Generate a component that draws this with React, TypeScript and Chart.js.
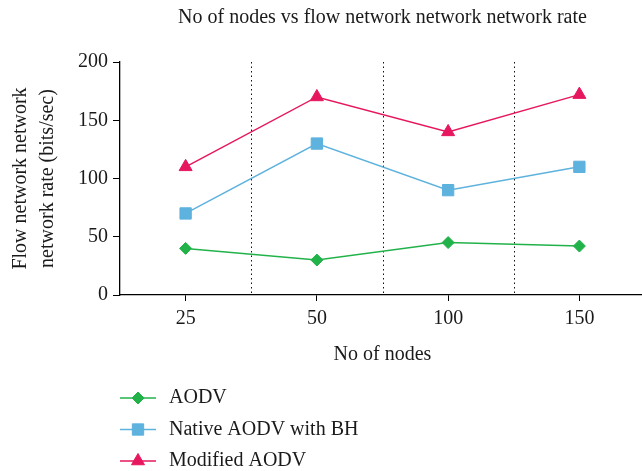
import React, { useEffect, useRef } from 'react';
import { Chart, registerables } from 'chart.js';
import { drawPoint } from 'chart.js/helpers';

Chart.register(...registerables);

const categories = ['25', '50', '100', '150'];
const aodv = [40, 30, 45, 42];
const nativeBH = [70, 130, 90, 110];
const modified = [110, 170, 140, 172];
const seriesNames = ['AODV', 'Native AODV with BH', 'Modified AODV'];
const titleText = 'No of nodes vs flow network network network rate';
const xTitle = 'No of nodes';
const yTitle = ['Flow network network', 'network rate (bits/sec)'];

const FONT = "'Liberation Serif', 'Times New Roman', serif";
const FS = 20;
const TEXT = '#1a1a1a';
const GREEN = '#22b24a';
const BLUE = '#5db2de';
const PINK = '#e6175e';

const dividerPlugin = {
  id: 'dividers',
  beforeDatasetsDraw(chart: any) {
    const x = chart.scales.x;
    const { top, bottom } = chart.chartArea;
    const ctx = chart.ctx;
    ctx.save();
    ctx.strokeStyle = '#111';
    ctx.lineWidth = 1;
    ctx.setLineDash([1.5, 3]);
    for (let i = 0; i < categories.length - 1; i++) {
      const px = Math.round((x.getPixelForValue(i) + x.getPixelForValue(i + 1)) / 2) + 0.5;
      ctx.beginPath();
      ctx.moveTo(px, top);
      ctx.lineTo(px, bottom);
      ctx.stroke();
    }
    ctx.restore();
  },
};

const legendPlugin = {
  id: 'vlegend',
  afterDraw(chart: any) {
    const ctx = chart.ctx;
    const left = chart.chartArea.left;
    const base = chart.chartArea.bottom;
    const offsets = [103, 134.5, 166];
    ctx.save();
    chart.data.datasets.forEach((ds: any, i: number) => {
      const y = base + offsets[i];
      ctx.strokeStyle = ds.borderColor;
      ctx.lineWidth = 1.5;
      ctx.setLineDash([]);
      ctx.beginPath();
      ctx.moveTo(left, y);
      ctx.lineTo(left + 36, y);
      ctx.stroke();
      ctx.fillStyle = ds.pointBackgroundColor;
      ctx.strokeStyle = ds.pointBorderColor;
      ctx.lineWidth = 1;
      drawPoint(ctx, { pointStyle: ds.pointStyle, radius: ds.pointRadius, rotation: 0, borderWidth: 1 } as any, left + 18, y);
      ctx.fillStyle = TEXT;
      ctx.font = `${FS}px ${FONT}`;
      ctx.textBaseline = 'middle';
      ctx.textAlign = 'left';
      ctx.fillText(ds.label, left + 49, y);
    });
    ctx.restore();
  },
};

export default function App() {
  const ref = useRef<HTMLCanvasElement | null>(null);
  useEffect(() => {
    if (!ref.current) return;
    const mk = (label: string, data: number[], color: string, style: string, r: number) => ({
      label,
      data,
      borderColor: color,
      backgroundColor: color,
      pointBackgroundColor: color,
      pointBorderColor: color,
      borderWidth: 1.5,
      pointStyle: style,
      pointRadius: r,
      pointBorderWidth: 1,
      tension: 0,
    });
    const chart = new Chart(ref.current, {
      type: 'line',
      data: {
        labels: categories,
        datasets: [
          mk(seriesNames[0], aodv, GREEN, 'rectRot', 6),
          mk(seriesNames[1], nativeBH, BLUE, 'rect', 8),
          mk(seriesNames[2], modified, PINK, 'triangle', 7.5),
        ] as any,
      },
      options: {
        animation: false,
        responsive: true,
        maintainAspectRatio: false,
        layout: { padding: { left: 7, right: 0, top: 4, bottom: 104 } },
        plugins: {
          legend: { display: false },
          tooltip: { enabled: false },
          title: {
            display: true,
            text: titleText,
            fullSize: false,
            color: TEXT,
            font: { family: FONT, size: FS, weight: 'normal' },
            padding: { top: 2, bottom: 32 },
          },
        },
        scales: {
          x: {
            type: 'category',
            offset: true,
            grid: {
              display: true,
              offset: false,
              drawOnChartArea: false,
              drawTicks: true,
              tickLength: 6,
              color: '#000',
            },
            border: { display: true, color: '#000', width: 1.3 },
            ticks: { color: TEXT, font: { family: FONT, size: FS }, padding: 6 },
            title: {
              display: true,
              text: xTitle,
              color: TEXT,
              font: { family: FONT, size: FS },
              padding: { top: 6, bottom: 0 },
            },
          },
          y: {
            min: 0,
            max: 200,
            ticks: { stepSize: 50, color: TEXT, font: { family: FONT, size: FS }, padding: 5 },
            grid: {
              display: true,
              drawOnChartArea: false,
              drawTicks: true,
              tickLength: 7,
              color: '#000',
            },
            border: { display: true, color: '#000', width: 1.3 },
            title: {
              display: true,
              text: yTitle,
              color: TEXT,
              font: { family: FONT, size: FS, lineHeight: 1.35 },
              padding: { top: 0, bottom: 12 },
            },
          },
        },
      },
      plugins: [dividerPlugin, legendPlugin],
    });
    return () => chart.destroy();
  }, []);
  return (
    <div style={{ position: 'absolute', left: 0, top: 0, width: 642, height: 471, overflow: 'hidden' }}>
      <div style={{ position: 'relative', width: 654, height: 471 }}>
        <canvas ref={ref} />
      </div>
    </div>
  );
}
